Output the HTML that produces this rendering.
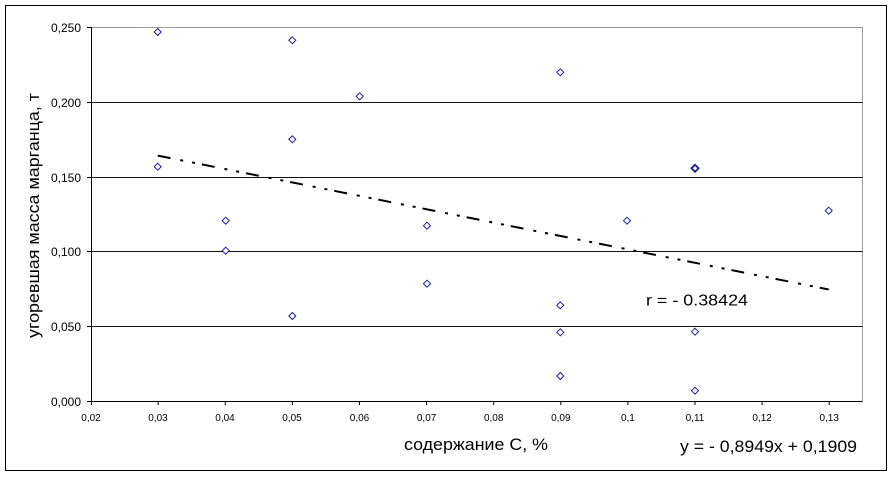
<!DOCTYPE html>
<html>
<head>
<meta charset="utf-8">
<style>
  html, body { margin: 0; padding: 0; background: #ffffff; }
  body { width: 894px; height: 477px; overflow: hidden; }
  svg { display: block; }
  text { font-family: "Liberation Sans", "DejaVu Sans", sans-serif; fill: #000; }
</style>
</head>
<body>
<svg width="894" height="477" viewBox="0 0 894 477" xmlns="http://www.w3.org/2000/svg">
  <rect x="0" y="0" width="894" height="477" fill="#ffffff"/>
  <!-- outer chart border -->
  <rect x="5.5" y="5.5" width="881" height="465" fill="none" stroke="#000" stroke-width="1"/>

  <!-- plot area borders (top/right gray) -->
  <line x1="91" y1="27.5" x2="862.5" y2="27.5" stroke="#999" stroke-width="1"/>
  <line x1="862.5" y1="27" x2="862.5" y2="401" stroke="#999" stroke-width="1"/>

  <!-- horizontal gridlines -->
  <g stroke="#111" stroke-width="1">
    <line x1="91" y1="102.5" x2="862.5" y2="102.5"/>
    <line x1="91" y1="177.5" x2="862.5" y2="177.5"/>
    <line x1="91" y1="251.5" x2="862.5" y2="251.5"/>
    <line x1="91" y1="326.5" x2="862.5" y2="326.5"/>
  </g>

  <!-- axes -->
  <line x1="91.5" y1="27" x2="91.5" y2="401.5" stroke="#000" stroke-width="1"/>
  <line x1="91" y1="401.5" x2="862.5" y2="401.5" stroke="#000" stroke-width="1"/>

  <!-- y ticks -->
  <g stroke="#000" stroke-width="1">
    <line x1="87" y1="27.5" x2="91" y2="27.5"/>
    <line x1="87" y1="102.5" x2="91" y2="102.5"/>
    <line x1="87" y1="177.5" x2="91" y2="177.5"/>
    <line x1="87" y1="251.5" x2="91" y2="251.5"/>
    <line x1="87" y1="326.5" x2="91" y2="326.5"/>
    <line x1="87" y1="401.5" x2="91" y2="401.5"/>
  </g>
  <!-- y tick labels -->
  <g font-size="12" text-anchor="end">
    <text x="81" y="32">0,250</text>
    <text x="81" y="107">0,200</text>
    <text x="81" y="182">0,150</text>
    <text x="81" y="256">0,100</text>
    <text x="81" y="331">0,050</text>
    <text x="81" y="406">0,000</text>
  </g>

  <!-- x ticks -->
  <g stroke="#000" stroke-width="1">
    <line x1="91.5" y1="401" x2="91.5" y2="405"/>
    <line x1="158.2" y1="401" x2="158.2" y2="405"/>
    <line x1="225.3" y1="401" x2="225.3" y2="405"/>
    <line x1="292.4" y1="401" x2="292.4" y2="405"/>
    <line x1="359.5" y1="401" x2="359.5" y2="405"/>
    <line x1="426.6" y1="401" x2="426.6" y2="405"/>
    <line x1="493.7" y1="401" x2="493.7" y2="405"/>
    <line x1="560.8" y1="401" x2="560.8" y2="405"/>
    <line x1="627.9" y1="401" x2="627.9" y2="405"/>
    <line x1="695" y1="401" x2="695" y2="405"/>
    <line x1="762.1" y1="401" x2="762.1" y2="405"/>
    <line x1="829.2" y1="401" x2="829.2" y2="405"/>
  </g>
  <!-- x tick labels -->
  <g font-size="10" text-anchor="middle">
    <text x="91" y="421">0,02</text>
    <text x="158" y="421">0,03</text>
    <text x="225" y="421">0,04</text>
    <text x="292" y="421">0,05</text>
    <text x="359.5" y="421">0,06</text>
    <text x="426.6" y="421">0,07</text>
    <text x="493.7" y="421">0,08</text>
    <text x="560.8" y="421">0,09</text>
    <text x="627.9" y="421">0,1</text>
    <text x="695" y="421">0,11</text>
    <text x="762.1" y="421">0,12</text>
    <text x="829.2" y="421">0,13</text>
  </g>

  <!-- trend line -->
  <line x1="157.7" y1="155.6" x2="828.7" y2="289.5" stroke="#000" stroke-width="2"
        stroke-dasharray="13 10 3 9 3 7"/>

  <!-- data points -->
  <g fill="#fff" stroke="#1a1a9a" stroke-width="1">
    <path d="M157.7 28.5 l3.5 3.5 l-3.5 3.5 l-3.5 -3.5 z"/>
    <path d="M157.7 163.2 l3.5 3.5 l-3.5 3.5 l-3.5 -3.5 z"/>
    <path d="M225.7 217.2 l3.5 3.5 l-3.5 3.5 l-3.5 -3.5 z"/>
    <path d="M225.7 247.2 l3.5 3.5 l-3.5 3.5 l-3.5 -3.5 z"/>
    <path d="M292.3 36.8 l3.5 3.5 l-3.5 3.5 l-3.5 -3.5 z"/>
    <path d="M292.3 135.8 l3.5 3.5 l-3.5 3.5 l-3.5 -3.5 z"/>
    <path d="M292.3 312.5 l3.5 3.5 l-3.5 3.5 l-3.5 -3.5 z"/>
    <path d="M359.7 92.8 l3.5 3.5 l-3.5 3.5 l-3.5 -3.5 z"/>
    <path d="M427 222.2 l3.5 3.5 l-3.5 3.5 l-3.5 -3.5 z"/>
    <path d="M427 280.2 l3.5 3.5 l-3.5 3.5 l-3.5 -3.5 z"/>
    <path d="M560.3 68.8 l3.5 3.5 l-3.5 3.5 l-3.5 -3.5 z"/>
    <path d="M560.3 301.8 l3.5 3.5 l-3.5 3.5 l-3.5 -3.5 z"/>
    <path d="M560.3 328.8 l3.5 3.5 l-3.5 3.5 l-3.5 -3.5 z"/>
    <path d="M560.3 372.5 l3.5 3.5 l-3.5 3.5 l-3.5 -3.5 z"/>
    <path d="M627 217.2 l3.5 3.5 l-3.5 3.5 l-3.5 -3.5 z"/>
    <path d="M695 164.8 l3.5 3.5 l-3.5 3.5 l-3.5 -3.5 z" stroke-width="1.8"/>
    <path d="M695 328.2 l3.5 3.5 l-3.5 3.5 l-3.5 -3.5 z"/>
    <path d="M695 387.2 l3.5 3.5 l-3.5 3.5 l-3.5 -3.5 z"/>
    <path d="M828.7 207.2 l3.5 3.5 l-3.5 3.5 l-3.5 -3.5 z"/>
  </g>

  <!-- annotations -->
  <text x="646" y="305.5" font-size="16" textLength="102" lengthAdjust="spacingAndGlyphs">r = - 0.38424</text>
  <text x="404" y="450" font-size="16.5" textLength="144" lengthAdjust="spacingAndGlyphs">содержание С, %</text>
  <text x="680" y="452" font-size="16.5" textLength="177" lengthAdjust="spacingAndGlyphs">y = - 0,8949x + 0,1909</text>

  <!-- y axis title -->
  <text transform="translate(39,338) rotate(-90)" x="0" y="0" font-size="16.5" textLength="245" lengthAdjust="spacingAndGlyphs">угоревшая масса марганца, т</text>
</svg>
</body>
</html>
